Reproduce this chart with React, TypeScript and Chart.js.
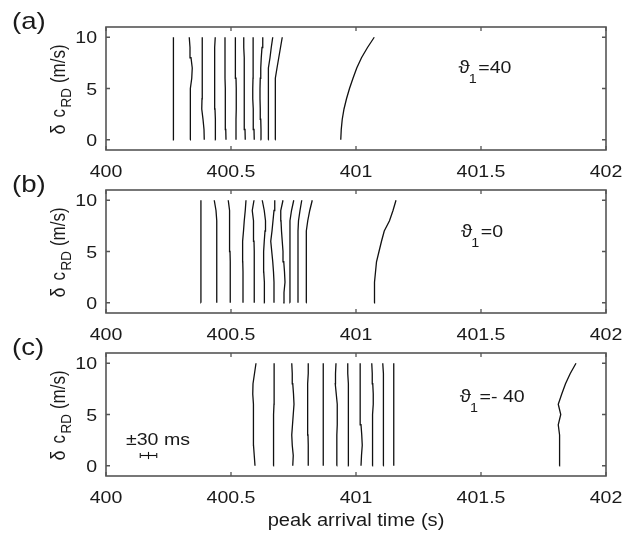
import React, { useEffect, useRef } from 'react';
import { Chart, registerables } from 'chart.js';

Chart.register(...registerables);

// ---------------- data ----------------
const DELTA_C = [0, 1, 2, 3, 4, 5, 6, 7, 8, 9, 10];
const X_TICKS = [400, 400.5, 401, 401.5, 402];
const Y_TICKS = [0, 5, 10];
const X_RANGE = [400, 402];
const Y_RANGE = [-1, 11];

// peak arrival times (s) for each line, listed at delta c = 0..10 m/s
const PANEL_A_TIMES = [
  [400.272, 400.272, 400.271, 400.270, 400.270, 400.269, 400.269, 400.269, 400.269, 400.269, 400.269],
  [400.336, 400.336, 400.336, 400.337, 400.338, 400.340, 400.343, 400.345, 400.340, 400.336, 400.333],
  [400.393, 400.392, 400.388, 400.383, 400.384, 400.385, 400.385, 400.385, 400.385, 400.385, 400.385],
  [400.439, 400.438, 400.437, 400.436, 400.435, 400.434, 400.434, 400.434, 400.435, 400.436, 400.437],
  [400.480, 400.479, 400.478, 400.477, 400.477, 400.477, 400.476, 400.476, 400.476, 400.476, 400.476],
  [400.520, 400.520, 400.520, 400.521, 400.521, 400.521, 400.520, 400.519, 400.518, 400.517, 400.516],
  [400.557, 400.556, 400.555, 400.554, 400.553, 400.553, 400.552, 400.552, 400.552, 400.551, 400.551],
  [400.593, 400.592, 400.590, 400.588, 400.587, 400.587, 400.588, 400.588, 400.588, 400.589, 400.589],
  [400.621, 400.620, 400.619, 400.617, 400.616, 400.616, 400.617, 400.619, 400.621, 400.624, 400.627],
  [400.649, 400.649, 400.649, 400.649, 400.649, 400.649, 400.650, 400.652, 400.656, 400.661, 400.667],
  [400.677, 400.677, 400.677, 400.677, 400.677, 400.677, 400.679, 400.684, 400.691, 400.698, 400.705],
  [400.939, 400.941, 400.945, 400.952, 400.962, 400.974, 400.988, 401.003, 401.022, 401.046, 401.073],
];

const PANEL_B_TIMES = [
  [400.380, 400.380, 400.380, 400.380, 400.380, 400.380, 400.380, 400.380, 400.379, 400.379, 400.379],
  [400.443, 400.443, 400.443, 400.443, 400.443, 400.443, 400.443, 400.443, 400.443, 400.440, 400.433],
  [400.497, 400.497, 400.497, 400.497, 400.497, 400.496, 400.495, 400.494, 400.493, 400.495, 400.489],
  [400.548, 400.548, 400.548, 400.548, 400.547, 400.546, 400.547, 400.550, 400.553, 400.557, 400.560],
  [400.593, 400.593, 400.593, 400.593, 400.593, 400.593, 400.592, 400.591, 400.589, 400.585, 400.592],
  [400.635, 400.634, 400.633, 400.631, 400.630, 400.631, 400.633, 400.636, 400.638, 400.633, 400.625],
  [400.672, 400.672, 400.672, 400.670, 400.667, 400.663, 400.659, 400.664, 400.668, 400.672, 400.675],
  [400.709, 400.712, 400.716, 400.714, 400.711, 400.708, 400.705, 400.702, 400.700, 400.699, 400.708],
  [400.736, 400.736, 400.736, 400.736, 400.736, 400.736, 400.736, 400.735, 400.736, 400.742, 400.751],
  [400.768, 400.768, 400.768, 400.768, 400.768, 400.768, 400.768, 400.768, 400.770, 400.776, 400.783],
  [400.801, 400.801, 400.801, 400.801, 400.801, 400.801, 400.801, 400.803, 400.807, 400.815, 400.825],
  [401.072, 401.073, 401.075, 401.078, 401.082, 401.092, 401.102, 401.113, 401.134, 401.148, 401.160],
];

const PANEL_C_TIMES = [
  [400.596, 400.593, 400.590, 400.589, 400.590, 400.591, 400.589, 400.587, 400.588, 400.594, 400.600],
  [400.669, 400.669, 400.670, 400.670, 400.671, 400.671, 400.672, 400.672, 400.672, 400.673, 400.673],
  [400.747, 400.749, 400.745, 400.743, 400.746, 400.749, 400.752, 400.750, 400.747, 400.745, 400.743],
  [400.809, 400.809, 400.809, 400.808, 400.807, 400.806, 400.805, 400.807, 400.808, 400.809, 400.809],
  [400.869, 400.869, 400.869, 400.869, 400.869, 400.869, 400.869, 400.869, 400.869, 400.869, 400.869],
  [400.923, 400.923, 400.923, 400.924, 400.925, 400.925, 400.925, 400.921, 400.917, 400.918, 400.920],
  [400.971, 400.971, 400.970, 400.969, 400.969, 400.970, 400.970, 400.969, 400.968, 400.967, 400.967],
  [401.020, 401.022, 401.025, 401.023, 401.020, 401.018, 401.017, 401.017, 401.016, 401.016, 401.016],
  [401.065, 401.065, 401.065, 401.066, 401.067, 401.068, 401.069, 401.069, 401.067, 401.065, 401.063],
  [401.109, 401.109, 401.109, 401.109, 401.110, 401.110, 401.111, 401.111, 401.110, 401.108, 401.107],
  [401.151, 401.151, 401.151, 401.151, 401.151, 401.151, 401.151, 401.151, 401.151, 401.151, 401.151],
  [401.813, 401.813, 401.814, 401.816, 401.809, 401.819, 401.809, 401.823, 401.838, 401.857, 401.880],
];

const PANEL_TIMES = [PANEL_A_TIMES, PANEL_B_TIMES, PANEL_C_TIMES];
const PANEL_LETTERS = ['(a)', '(b)', '(c)'];
const THETA_VALUES = ['=40', '=0', '=- 40'];
const THETA_ANCHORS = [[401.41, 6.5], [401.42, 6.4], [401.415, 6.25]];

const ERR_CENTER = 400.17;
const ERR_HALF = 0.033;
const ERR_Y = 1;
const ERR_LABEL = '\u00B130 ms';
const ERR_LABEL_AT = [400.08, 2.05];

const Y_TITLE_PARTS = ['\u03B4', 'c', 'RD', '(m/s)'];
const X_TITLE = 'peak arrival time (s)';

// ---------------- layout / style ----------------
const W = 631;
const H = 535;
const FRAME_LEFT = 106;
const FRAME_RIGHT = 606;
const FRAME_H = 123;
const PANEL_TOPS = [27, 190, 353];
const FONT = '"Liberation Sans", Arial, Helvetica, sans-serif';
const S = 1.15; // horizontal stretch of the original figure's text
const INK = '#1a1a1a';

function drawText(ctx, s, x, y, px, align = 'left') {
  ctx.save();
  ctx.translate(x, y);
  ctx.scale(S, 1);
  ctx.font = `${px}px ${FONT}`;
  ctx.textAlign = align;
  ctx.textBaseline = 'alphabetic';
  ctx.fillStyle = INK;
  ctx.fillText(s, 0, 0);
  ctx.restore();
}

function textWidth(ctx, s, px) {
  ctx.save();
  ctx.font = `${px}px ${FONT}`;
  const w = ctx.measureText(s).width;
  ctx.restore();
  return w;
}

function makeFramePlugin(idx) {
  return {
    id: 'frame' + idx,
    afterDraw(chart) {
      const { ctx, chartArea: a } = chart;
      const xs = chart.scales.x;
      const ys = chart.scales.y;
      ctx.save();
      // box
      ctx.strokeStyle = '#555';
      ctx.lineWidth = 1.6;
      ctx.strokeRect(a.left, a.top, a.right - a.left, a.bottom - a.top);
      // inward ticks
      ctx.lineWidth = 1.3;
      ctx.beginPath();
      X_TICKS.forEach((v) => {
        const px = xs.getPixelForValue(v);
        ctx.moveTo(px, a.bottom);
        ctx.lineTo(px, a.bottom - 4);
        ctx.moveTo(px, a.top);
        ctx.lineTo(px, a.top + 4);
      });
      Y_TICKS.forEach((v) => {
        const py = ys.getPixelForValue(v);
        ctx.moveTo(a.left, py);
        ctx.lineTo(a.left + 4, py);
        ctx.moveTo(a.right, py);
        ctx.lineTo(a.right - 4, py);
      });
      ctx.stroke();

      // tick labels
      X_TICKS.forEach((v) => {
        drawText(ctx, String(v), xs.getPixelForValue(v), a.bottom + 26.5, 17, 'center');
      });
      Y_TICKS.forEach((v) => {
        drawText(ctx, String(v), a.left - 9, ys.getPixelForValue(v) + 6, 17, 'right');
      });

      // panel letter
      drawText(ctx, PANEL_LETTERS[idx], 12, a.top + 2, 24, 'left');

      // y title (rotated, with subscript)
      const sizes = [18, 17, 13.5, 17];
      const gaps = [7, 1.5, 5, 0];
      const offsets = [0, 0, 5, 0];
      let total = 0;
      const widths = Y_TITLE_PARTS.map((p, i) => textWidth(ctx, p, sizes[i]));
      widths.forEach((w, i) => (total += w + gaps[i]));
      ctx.save();
      ctx.translate(65, (a.top + a.bottom) / 2 + 1);
      ctx.scale(S, 1);
      ctx.rotate(-Math.PI / 2);
      ctx.fillStyle = INK;
      ctx.textAlign = 'left';
      ctx.textBaseline = 'alphabetic';
      let cx = -total / 2;
      Y_TITLE_PARTS.forEach((p, i) => {
        ctx.font = `${sizes[i]}px ${FONT}`;
        ctx.fillText(p, cx, offsets[i]);
        cx += widths[i] + gaps[i];
      });
      ctx.restore();

      // theta annotation
      const [tx, ty] = THETA_ANCHORS[idx];
      let px0 = xs.getPixelForValue(tx);
      const py0 = ys.getPixelForValue(ty);
      drawText(ctx, '\u03D1', px0, py0, 18);
      px0 += textWidth(ctx, '\u03D1', 18) * S - 1;
      drawText(ctx, '1', px0, py0 + 10, 12.5);
      px0 += textWidth(ctx, '1', 12.5) * S + 1.5;
      drawText(ctx, THETA_VALUES[idx], px0, py0, 17);

      if (idx === 2) {
        drawText(ctx, ERR_LABEL, xs.getPixelForValue(ERR_LABEL_AT[0]), ys.getPixelForValue(ERR_LABEL_AT[1]), 17, 'left');
        drawText(ctx, X_TITLE, (a.left + a.right) / 2, 526, 17.5, 'center');
      }
      ctx.restore();
    },
  };
}

function buildDatasets(idx) {
  const line = (pts) => ({
    data: pts,
    showLine: true,
    borderColor: '#111',
    borderWidth: 1.3,
    pointRadius: 0,
    tension: 0,
    fill: false,
  });
  const ds = PANEL_TIMES[idx].map((times) => line(times.map((t, i) => ({ x: t, y: DELTA_C[i] }))));
  if (idx === 2) {
    const l = ERR_CENTER - ERR_HALF;
    const r = ERR_CENTER + ERR_HALF;
    ds.push({ ...line([{ x: l, y: ERR_Y }, { x: r, y: ERR_Y }]), borderWidth: 1.1 });
    ds.push({ ...line([{ x: ERR_CENTER, y: ERR_Y - 0.35 }, { x: ERR_CENTER, y: ERR_Y + 0.35 }]), borderWidth: 1.1 });
    ds.push({ ...line([{ x: l, y: ERR_Y - 0.25 }, { x: l, y: ERR_Y + 0.25 }]), borderWidth: 1.1 });
    ds.push({ ...line([{ x: r, y: ERR_Y - 0.25 }, { x: r, y: ERR_Y + 0.25 }]), borderWidth: 1.1 });
  }
  return ds;
}

function Panel({ idx }) {
  const ref = useRef(null);
  useEffect(() => {
    const top = PANEL_TOPS[idx];
    const chart = new Chart(ref.current, {
      type: 'scatter',
      data: { datasets: buildDatasets(idx) },
      options: {
        responsive: false,
        animation: false,
        devicePixelRatio: 1,
        events: [],
        layout: {
          padding: { left: FRAME_LEFT, right: W - FRAME_RIGHT, top, bottom: H - top - FRAME_H },
        },
        plugins: { legend: { display: false }, tooltip: { enabled: false } },
        scales: {
          x: { type: 'linear', min: X_RANGE[0], max: X_RANGE[1], display: false },
          y: { type: 'linear', min: Y_RANGE[0], max: Y_RANGE[1], display: false },
        },
      },
      plugins: [makeFramePlugin(idx)],
    });
    return () => chart.destroy();
  }, [idx]);
  return (
    <canvas
      ref={ref}
      width={W}
      height={H}
      style={{ position: 'absolute', left: 0, top: 0, width: W, height: H }}
    />
  );
}

export default function App() {
  return (
    <div style={{ position: 'absolute', left: 0, top: 0, width: W, height: H, background: '#fff', overflow: 'hidden' }}>
      <Panel idx={0} />
      <Panel idx={1} />
      <Panel idx={2} />
    </div>
  );
}
